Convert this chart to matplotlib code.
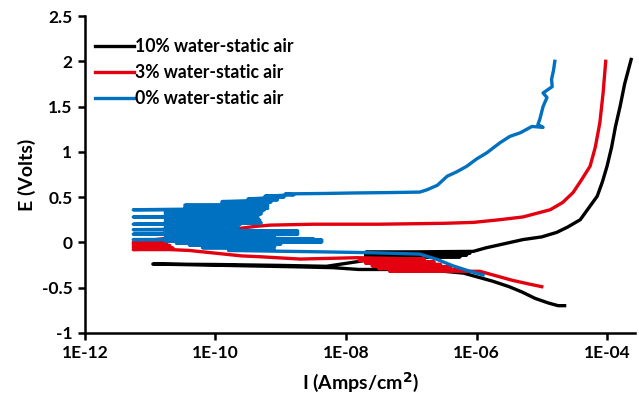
import numpy as np
import matplotlib.pyplot as plt

# log10 of current (A/cm2) and potential (V)
# 10% water - static air
black_logI = [-4.65, -4.75, -4.9, -5.1, -5.3, -5.5, -5.75, -6.0, -6.2, -6.5, -6.9, -7.3, -7.8,
              -8.2, -8.8, -9.5, -10.2, -10.96, -10.0, -9.0, -8.3, -7.7, -7.7, -6.25, -7.7, -6.15,
              -7.7, -6.1, -7.7, -6.05, -5.85, -5.6, -5.29, -5.0, -4.77, -4.6, -4.41, -4.28,
              -4.15, -4.07, -4.0, -3.93, -3.87, -3.8, -3.73, -3.63]
black_E = [-0.70, -0.70, -0.67, -0.62, -0.55, -0.49, -0.43, -0.38, -0.34, -0.32, -0.31, -0.30, -0.30,
           -0.28, -0.27, -0.26, -0.25, -0.24, -0.245, -0.255, -0.265, -0.20, -0.17, -0.16, -0.15, -0.14,
           -0.13, -0.12, -0.11, -0.10, -0.06, -0.02, 0.03, 0.06, 0.11, 0.17, 0.25, 0.38,
           0.51, 0.67, 0.84, 1.05, 1.28, 1.5, 1.75, 2.02]

# 3% water - static air
red_logI = [-5.0, -5.2, -5.45, -5.7, -5.95, -7.33, -6.25, -7.5, -6.4, -7.6, -6.55, -7.7, -6.65,
            -7.8, -6.8, -7.83, -8.7, -9.3, -9.6, -10.0, -10.4, -10.7, -11.26, -10.65, -11.26,
            -10.7, -11.26, -10.75, -11.26, -10.8, -10.0, -9.62, -9.4, -9.16, -8.5, -7.5, -7.0,
            -6.5, -6.05, -5.64, -5.29, -4.87, -4.68, -4.52, -4.4, -4.26, -4.18, -4.11, -4.06, -4.02]
red_E = [-0.49, -0.46, -0.42, -0.37, -0.32, -0.32, -0.30, -0.29, -0.27, -0.26, -0.245, -0.23, -0.215,
         -0.20, -0.185, -0.17, -0.185, -0.16, -0.15, -0.12, -0.09, -0.08, -0.08, -0.065, -0.05,
         -0.035, -0.02, -0.005, 0.0, 0.04, 0.10, 0.155, 0.175, 0.19, 0.20, 0.20, 0.205,
         0.21, 0.22, 0.25, 0.28, 0.36, 0.44, 0.55, 0.68, 0.84, 1.05, 1.32, 1.65, 2.0]

# 0% water - static air
blue_logI = [-5.9, -6.1, -6.36, -6.6, -6.87, -7.6, -8.4, -9.8, -9.1, -10.2, -9.09, -10.4, -9.0,
             -10.6, -8.37, -10.77, -8.37, -11.26, -8.5, -10.77, -9.1, -10.77, -8.74, -11.26, -8.74,
             -10.77, -8.74, -11.26, -9.7, -10.77, -9.65, -10.77, -9.62, -11.26, -9.3, -10.77, -9.32,
             -10.77, -9.35, -11.26, -9.35, -10.77, -9.3, -10.77, -9.29, -10.77, -9.25, -11.26, -9.2,
             -10.47, -9.2, -10.47, -9.2, -9.9, -9.15, -9.9, -9.05, -9.5, -8.95, -9.24, -8.8,
             -8.93, -8.3, -7.9, -7.3, -6.87, -6.76, -6.6, -6.45, -6.3, -6.15, -6.0,
             -5.84, -5.75, -5.64, -5.49, -5.33, -5.15, -4.98, -5.06, -5.03, -4.98, -4.92,
             -4.98, -4.84, -4.85, -4.82, -4.8]
blue_E = [-0.36, -0.32, -0.26, -0.19, -0.13, -0.115, -0.105, -0.09, -0.075, -0.06, -0.045, -0.03, -0.02,
          -0.01, 0.005, 0.015, 0.025, 0.03, 0.04, 0.05, 0.065, 0.075, 0.09, 0.09, 0.105,
          0.115, 0.125, 0.14, 0.15, 0.16, 0.17, 0.185, 0.20, 0.20, 0.215, 0.23, 0.245,
          0.26, 0.27, 0.28, 0.29, 0.30, 0.315, 0.325, 0.34, 0.35, 0.36, 0.36, 0.375,
          0.385, 0.40, 0.41, 0.42, 0.435, 0.445, 0.45, 0.47, 0.48, 0.50, 0.51, 0.525,
          0.535, 0.54, 0.545, 0.55, 0.555, 0.58, 0.63, 0.73, 0.78, 0.84, 0.92,
          0.99, 1.04, 1.10, 1.17, 1.21, 1.28, 1.27, 1.30, 1.36, 1.50, 1.60,
          1.65, 1.72, 1.80, 1.90, 2.0]

labels = ['10% water-static air', '3% water-static air', '0% water-static air']
colors = ['#000000', '#e3000f', '#0070c0']
xticks = [1e-12, 1e-10, 1e-8, 1e-6, 1e-4]
xticklabels = ['1E-12', '1E-10', '1E-08', '1E-06', '1E-04']
yticks = [-1, -0.5, 0, 0.5, 1, 1.5, 2, 2.5]
yticklabels = ['-1', '-0.5', '0', '0.5', '1', '1.5', '2', '2.5']

plt.rcParams['font.family'] = ['Lato', 'DejaVu Sans']
plt.rcParams['font.weight'] = 'bold'
plt.rcParams['path.simplify'] = False  # keep the back-and-forth noise strokes

fig = plt.figure(figsize=(6.39, 4.01), dpi=100)
ax = fig.add_axes([0.133, 0.170, 0.861, 0.790])

series = [(black_logI, black_E), (red_logI, red_E), (blue_logI, blue_E)]
for (lg, e), c, lab in zip(series, colors, labels):
    ax.plot(np.power(10.0, lg), e, color=c, lw=2.4, label=lab)

ax.set_xscale('log')
ax.set_xlim(1e-12, 2.7e-4)
ax.set_ylim(-1, 2.5)
ax.set_xticks(xticks)
ax.set_xticklabels(xticklabels, fontsize=12.5, fontweight='bold')
ax.minorticks_off()
ax.set_yticks(yticks)
ax.set_yticklabels(yticklabels, fontsize=12.5, fontweight='bold')

for s in ['top', 'right']:
    ax.spines[s].set_visible(False)
for s in ['left', 'bottom']:
    ax.spines[s].set_linewidth(1.8)
ax.tick_params(direction='out', length=5, width=1.8, pad=4)

ax.set_xlabel('I (Amps/cm$^\\mathbf{2}$)', fontsize=14, fontweight='bold', labelpad=6)
ax.set_ylabel('E (Volts)', fontsize=14, fontweight='bold', labelpad=4)

leg = ax.legend(loc='upper left', bbox_to_anchor=(0.018, 0.93), frameon=False, fontsize=12.7,
                handlelength=2.2, handletextpad=0.1, labelspacing=0.5, borderpad=0,
                borderaxespad=0)

fig.savefig('out.png', dpi=100)
